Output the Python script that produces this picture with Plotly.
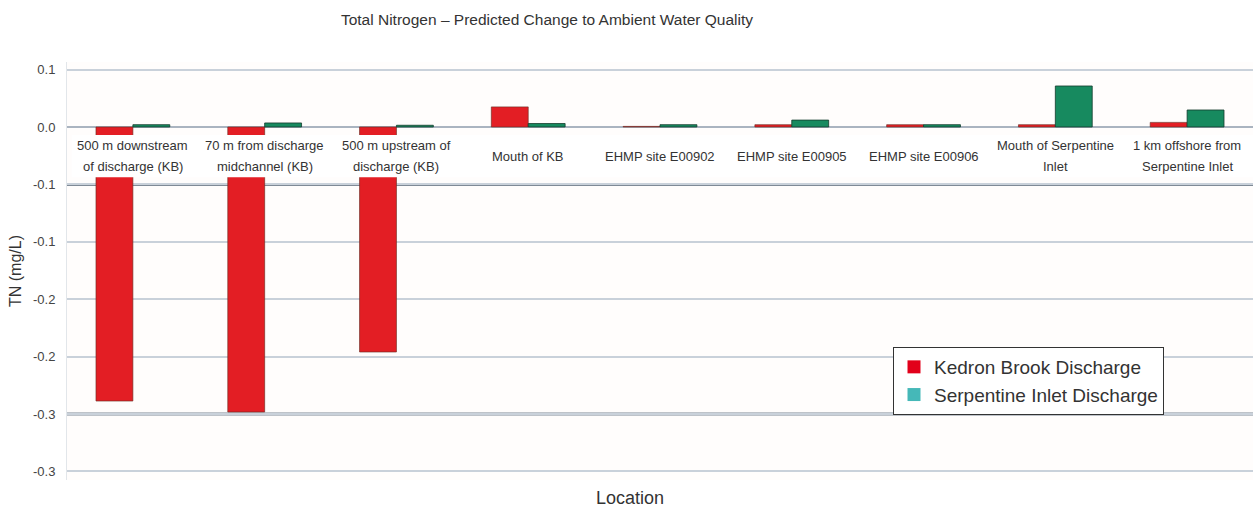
import plotly.graph_objects as go

# Sampling locations (x categories); "<br>" splits a label onto two lines
locations = [
    "500 m downstream<br>of discharge (KB)",
    "70 m from discharge<br>midchannel (KB)",
    "500 m upstream of<br>discharge (KB)",
    "Mouth of KB",
    "EHMP site E00902",
    "EHMP site E00905",
    "EHMP site E00906",
    "Mouth of Serpentine<br>Inlet",
    "1 km offshore from<br>Serpentine Inlet",
]

# Predicted change in total nitrogen (mg/L)
kedron_brook = [-0.2387, -0.2483, -0.1960, 0.0175, 0.0005, 0.0020, 0.0020, 0.0020, 0.0040]
serpentine_inlet = [0.0020, 0.0035, 0.0015, 0.0030, 0.0020, 0.0060, 0.0020, 0.0357, 0.0148]

# Y-axis ticks and their (one-decimal) labels
y_ticks = [0.05, 0.0, -0.05, -0.10, -0.15, -0.20, -0.25, -0.30]
y_tick_labels = ["0.1", "0.0", "-0.1", "-0.1", "-0.2", "-0.2", "-0.3", "-0.3"]

series_names = ["Kedron Brook Discharge", "Serpentine Inlet Discharge"]

FONT = "Liberation Sans, Arial, sans-serif"
TEXT = "#333333"
BAR_RED = "#e31e24"
BAR_GREEN = "#178a5f"
KEY_RED = "#e2001a"
KEY_TEAL = "#45b8b8"

fig = go.Figure()

fig.add_trace(go.Bar(
    x=locations, y=kedron_brook, name=series_names[0], showlegend=False,
    marker=dict(color=BAR_RED, line=dict(color="rgba(110,45,35,0.65)", width=1)),
))
fig.add_trace(go.Bar(
    x=locations, y=serpentine_inlet, name=series_names[1], showlegend=False,
    marker=dict(color=BAR_GREEN, line=dict(color="rgba(20,60,45,0.8)", width=1)),
))

# Legend keys (square swatches)
for name, colour in zip(series_names, [KEY_RED, KEY_TEAL]):
    fig.add_trace(go.Scatter(
        x=[None], y=[None], mode="markers", name=name,
        marker=dict(symbol="square", size=13, color=colour),
    ))

# White band that carries the location labels just below the zero line
fig.add_shape(type="rect", xref="paper", yref="y", x0=0.004, x1=1,
              y0=-0.0437, y1=-0.0070, fillcolor="white", line_width=0,
              layer="above")

# Heavier rules
for yv in (-0.05, -0.25):
    fig.add_shape(type="line", xref="paper", yref="y", x0=0, x1=1, y0=yv, y1=yv,
                  line=dict(color="#7f8a96", width=3), layer="below")

# Location labels, one annotation per text line
for loc in locations:
    lines = loc.split("<br>")
    n = len(lines)
    for i, line in enumerate(lines):
        shift = (n - 1) * 10.5 - i * 21
        fig.add_annotation(x=loc, y=-0.0253, xref="x", yref="y", text=line,
                           showarrow=False, yshift=shift,
                           font=dict(family=FONT, size=13, color=TEXT))

# X-axis title
fig.add_annotation(text="Location", xref="paper", yref="paper",
                   x=(630 - 67) / 1186, y=-(498 - 480) / 418,
                   xanchor="center", yanchor="middle", showarrow=False,
                   borderpad=0,
                   font=dict(family=FONT, size=18, color=TEXT))

fig.update_layout(
    width=1253, height=510,
    margin=dict(l=67, r=0, t=62, b=30),
    paper_bgcolor="white",
    plot_bgcolor="#fffdfc",
    barmode="group",
    bargap=0.44,
    bargroupgap=0,
    font=dict(family=FONT, color=TEXT),
    title=dict(text="Total Nitrogen \u2013 Predicted Change to Ambient Water Quality",
               x=547 / 1253, xanchor="center", y=1 - 20 / 510, yanchor="middle",
               font=dict(family=FONT, size=15.5, color=TEXT)),
    legend=dict(x=(893 - 67) / 1186, y=(480 - 347) / 418, xanchor="left", yanchor="top",
                bgcolor="white", bordercolor="#333333", borderwidth=1,
                font=dict(family=FONT, size=19, color=TEXT),
                itemwidth=30, tracegroupgap=0),
    showlegend=True,
)

fig.update_xaxes(
    showticklabels=False, showgrid=False, zeroline=False,
    range=[-0.5, len(locations) - 0.5], fixedrange=True,
    automargin=False,
)
fig.update_yaxes(
    range=[-0.3075, 0.0566],
    tickmode="array", tickvals=y_ticks, ticktext=y_tick_labels,
    tickfont=dict(family=FONT, size=13, color="#444444"),
    ticks="outside", ticklen=8, tickcolor="rgba(0,0,0,0)",
    showgrid=True, gridcolor="#c9d1da", gridwidth=2,
    zeroline=True, zerolinecolor="#aab4c0", zerolinewidth=2,
    showline=True, linecolor="#e2e6ea", linewidth=1,
    title=dict(text="TN (mg/L)", standoff=7, font=dict(family=FONT, size=16, color=TEXT)),
    automargin=False,
)

fig.write_html("out.html")
